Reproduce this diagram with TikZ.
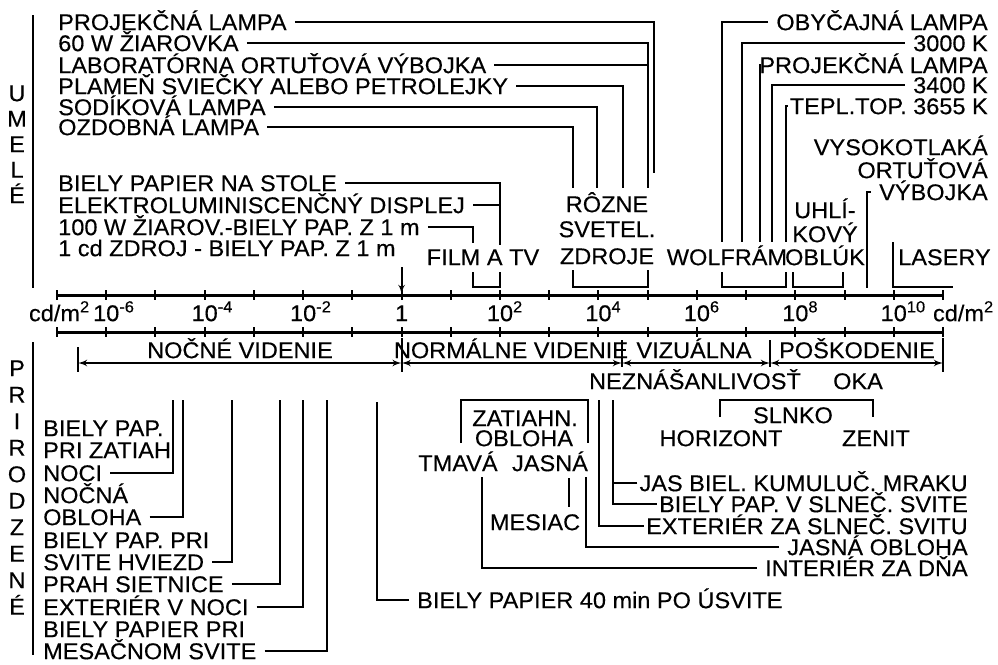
\documentclass[tikz,border=0pt]{standalone}
\usepackage{fontspec}
\setmainfont{Liberation Sans}[FakeBold=0.3, FakeStretch=1.03]
\usetikzlibrary{arrows, positioning, calc}

\begin{document}
\begin{tikzpicture}[x=0.3mm, y=-0.3mm, >=latex']
        \tikzstyle{lbl} = [inner sep=0pt, text height=4.9mm, text depth=0pt, font=\fontsize{19.5}{20}\selectfont]
        \tikzstyle{wire} = [line width=0.6mm]
        \tikzstyle{leader} = [wire, shorten <=2.4mm]
        \tikzstyle{stub} = [wire, shorten <=0.6mm]
        \tikzstyle{axisline} = [line width=0.9mm]
        \tikzstyle{vrange} = [line width=0.6mm, <->]

        \useasboundingbox (0,0) rectangle (998,664);

        % Side titles
        \foreach \c [count=\i from 0] in {U,M,E,L,É}
            \node (um\i) [lbl] at (17,93+25.5*\i) {\c};
        \draw [wire] (33,15) -- (33,288);
        \foreach \c [count=\i from 0] in {P,R,I,R,O,D,Z,E,N,É}
            \node (pr\i) [lbl] at (17,368+26.5*\i) {\c};
        \draw [wire] (33,342) -- (33,655);

        % Luminance scales
        \foreach \y in {295,332} {
            \draw [axisline] (57,\y) -- (943,\y);
            \foreach \k in {0,...,18}
                \draw [wire] (57+49.222*\k,\y-5) -- (57+49.222*\k,\y+5);
        }
        \node (cdl) [lbl, anchor=east] at (90,313) {cd/m\textsuperscript{2}};
        \node (cdr) [lbl, anchor=east] at (994,313) {cd/m\textsuperscript{2}};
        \foreach \k/\e in {1/-6,3/-4,5/-2,9/2,11/4,13/6,15/8,17/10}
            \node (d\k) [lbl] at (57+49.222*\k,313) {10\rlap{\textsuperscript{\e}}};
        \node (d7) [lbl] at (401.6,313) {1};

        % Artificial sources, left list
        \node (proj1) [lbl, anchor=west] at (58,22) {PROJEKČNÁ LAMPA};
        \node (w60) [lbl, anchor=west] at (58,43) {60 W ŽIAROVKA};
        \node (labor) [lbl, anchor=west] at (58,65) {LABORATÓRNA ORTUŤOVÁ VÝBOJKA};
        \node (plam) [lbl, anchor=west] at (58,86) {PLAMEŇ SVIEČKY ALEBO PETROLEJKY};
        \node (sod) [lbl, anchor=west] at (58,107) {SODÍKOVÁ LAMPA};
        \node (ozd) [lbl, anchor=west] at (58,127) {OZDOBNÁ LAMPA};
        \coordinate (r1) at (573,188);
        \coordinate (r2) at (597,188);
        \coordinate (r3) at (623,188);
        \coordinate (r4) at (648,188);
        \coordinate (r5) at (654,173);
        \draw [leader] (proj1.east) -| (r5);
        \draw [leader] (w60.east) -| (r4);
        \draw [leader] (labor.east) -- (labor.east -| r4);
        \draw [leader] (plam.east) -| (r3);
        \draw [leader] (sod.east) -| (r2);
        \draw [leader] (ozd.east) -| (r1);

        \node (bst) [lbl, anchor=west] at (58,183) {BIELY PAPIER NA STOLE};
        \node (ele) [lbl, anchor=west] at (58,205) {ELEKTROLUMINISCENČNÝ DISPLEJ};
        \node (zia) [lbl, anchor=west] at (58,227) {100 W ŽIAROV.-BIELY PAP. Z 1 m};
        \node (zdr) [lbl, anchor=west] at (58,248) {1 cd ZDROJ - BIELY PAP. Z 1 m};
        \coordinate (f1) at (473,243);
        \coordinate (f2) at (500,245);
        \draw [leader] (bst.east) -| (f2);
        \draw [leader] (ele.east) -- (ele.east -| f2);
        \draw [leader] (zia.east) -| (f1);
        \coordinate (ar0) at (401.6,267);
        \coordinate (ar1) at (401.6,294);
        \draw [wire, ->] (ar0) -- (ar1);

        % Source groups over the scale
        \node (film) [lbl] at (483,257) {FILM A TV};
        \node (rz1) [lbl] at (607,204) {RÔZNE};
        \node (rz2) [lbl] at (607,229) {SVETEL.};
        \node (rz3) [lbl] at (607,256) {ZDROJE};
        \node (wolf) [lbl] at (727,257) {WOLFRÁM};
        \node (uh1) [lbl] at (825,210) {UHLÍ-};
        \node (uh2) [lbl] at (825,234) {KOVÝ};
        \node (uh3) [lbl] at (825,257) {OBLÚK};
        \node (las) [lbl, anchor=west] at (898,257) {LASERY};
        \draw [wire] (473,272) |- (500,287) -- (500,272);
        \draw [wire] (573,270) |- (648,287) -- (648,270);
        \draw [wire] (722,272) |- (786,287) -- (786,272);
        \draw [wire] (793,272) |- (843,287) -- (843,272);
        \draw [wire] (893,242) |- (953,287);

        % Artificial sources, right list
        \node (obyc) [lbl, anchor=east] at (988,22) {OBYČAJNÁ LAMPA};
        \node (k30) [lbl, anchor=east] at (988,43) {3000 K};
        \node (proj2) [lbl, anchor=east] at (988,65) {PROJEKČNÁ LAMPA};
        \node (k34) [lbl, anchor=east] at (988,85) {3400 K};
        \node (tep) [lbl, anchor=east] at (988,106) {TEPL.TOP. 3655 K};
        \node (vys1) [lbl, anchor=east] at (988,147) {VYSOKOTLAKÁ};
        \node (vys2) [lbl, anchor=east] at (988,170) {ORTUŤOVÁ};
        \node (vys3) [lbl, anchor=east] at (988,192) {VÝBOJKA};
        \coordinate (t1) at (722,242);
        \coordinate (t2) at (742,242);
        \coordinate (t3) at (760,242);
        \coordinate (t4) at (772,242);
        \coordinate (t5) at (786,242);
        \coordinate (hg) at (867,288);
        \draw [leader] (obyc.west) -| (t1);
        \draw [leader] (k30.west) -| (t2);
        \draw [stub] (proj2.west) -| (t3);
        \draw [leader] (k34.west) -| (t4);
        \draw [stub] (tep.west) -| (t5);
        \draw [leader] (vys3.west) -| (hg);

        % Vision ranges
        \coordinate (v0) at (78,363);
        \coordinate (v1) at (401.6,363);
        \coordinate (v2) at (622,363);
        \coordinate (v3) at (770,363);
        \coordinate (v4) at (943,363);
        \draw [wire] (78,347) -- (78,372);
        \draw [wire] (401.6,338) -- (401.6,372);
        \draw [wire] (622,340) -- (622,367);
        \draw [wire] (770,340) -- (770,367);
        \draw [wire] (943,338) -- (943,372);
        \draw [vrange] (v0) -- (v1);
        \draw [vrange] (v1) -- (v2);
        \draw [vrange] (v2) -- (v3);
        \draw [vrange] (v3) -- (v4);
        \node (noc) [lbl] at (240,350) {NOČNÉ VIDENIE};
        \node (norm) [lbl] at (511,350) {NORMÁLNE VIDENIE};
        \node (viz) [lbl] at (694,350) {VIZUÁLNA};
        \node (nez) [lbl] at (695,381) {NEZNÁŠANLIVOSŤ};
        \node (pos) [lbl] at (857,350) {POŠKODENIE};
        \node (oka) [lbl] at (858,381) {OKA};

        % Natural sources, left list
        \node (bp1) [lbl, anchor=west] at (43,428) {BIELY PAP.};
        \node (bp2) [lbl, anchor=west] at (43,450) {PRI ZATIAH};
        \node (noci) [lbl, anchor=west] at (43,473) {NOCI};
        \node (nn1) [lbl, anchor=west] at (43,495) {NOČNÁ};
        \node (nn2) [lbl, anchor=west] at (43,517) {OBLOHA};
        \node (sh1) [lbl, anchor=west] at (43,540) {BIELY PAP. PRI};
        \node (sh2) [lbl, anchor=west] at (43,562) {SVITE HVIEZD};
        \node (prah) [lbl, anchor=west] at (43,584) {PRAH SIETNICE};
        \node (ext) [lbl, anchor=west] at (43,607) {EXTERIÉR V NOCI};
        \node (ms1) [lbl, anchor=west] at (43,629) {BIELY PAPIER PRI};
        \node (ms2) [lbl, anchor=west] at (43,651) {MESAČNOM SVITE};
        \node (usvit) [lbl, anchor=west] at (417,600) {BIELY PAPIER 40 min PO ÚSVITE};
        \coordinate (n1) at (173,400);
        \coordinate (n2) at (183,400);
        \coordinate (n3) at (232,400);
        \coordinate (n4) at (280,400);
        \coordinate (n5) at (303,400);
        \coordinate (n6) at (327,400);
        \coordinate (n7) at (377,402);
        \draw [leader] (noci.east) -| (n1);
        \draw [leader] (nn2.east) -| (n2);
        \draw [leader] (sh2.east) -| (n3);
        \draw [leader] (prah.east) -| (n4);
        \draw [leader] (ext.east) -| (n5);
        \draw [leader] (ms2.east) -| (n6);
        \draw [leader] (usvit.west) -| (n7);

        % Sky and daylight
        \node (zat1) [lbl] at (525,418) {ZATIAHN.};
        \node (zat2) [lbl] at (524,438) {OBLOHA};
        \node (tma) [lbl] at (458,463) {TMAVÁ};
        \node (jas) [lbl] at (550,463) {JASNÁ};
        \node (mes) [lbl] at (535,522) {MESIAC};
        \draw [wire] (461,443) |- (588,400) -- (588,443);
        \draw [wire] (569,478) -- (569,507);
        \node (jasb) [lbl, anchor=east] at (968,483) {JAS BIEL. KUMULUČ. MRAKU};
        \node (bpsl) [lbl, anchor=east] at (968,504) {BIELY PAP. V SLNEČ. SVITE};
        \node (exsl) [lbl, anchor=east] at (968,526) {EXTERIÉR ZA SLNEČ. SVITU};
        \node (jasob) [lbl, anchor=east] at (968,547) {JASNÁ OBLOHA};
        \node (inter) [lbl, anchor=east] at (968,568) {INTERIÉR ZA DŇA};
        \coordinate (m1) at (482,477);
        \coordinate (m2) at (586,477);
        \coordinate (m3) at (599,400);
        \coordinate (m4) at (613,400);
        \draw [leader] (inter.west) -| (m1);
        \draw [leader] (jasob.west) -| (m2);
        \draw [stub] (exsl.west) -| (m3);
        \draw [stub] (bpsl.west) -| (m4);
        \draw [stub] (jasb.west) -- (jasb.west -| m4);

        \node (slnk) [lbl] at (793,415) {SLNKO};
        \node (hor) [lbl] at (721,438) {HORIZONT};
        \node (zen) [lbl] at (876,438) {ZENIT};
        \draw [wire] (720,417) |- (873,400) -- (873,417);
\end{tikzpicture}
\end{document}
